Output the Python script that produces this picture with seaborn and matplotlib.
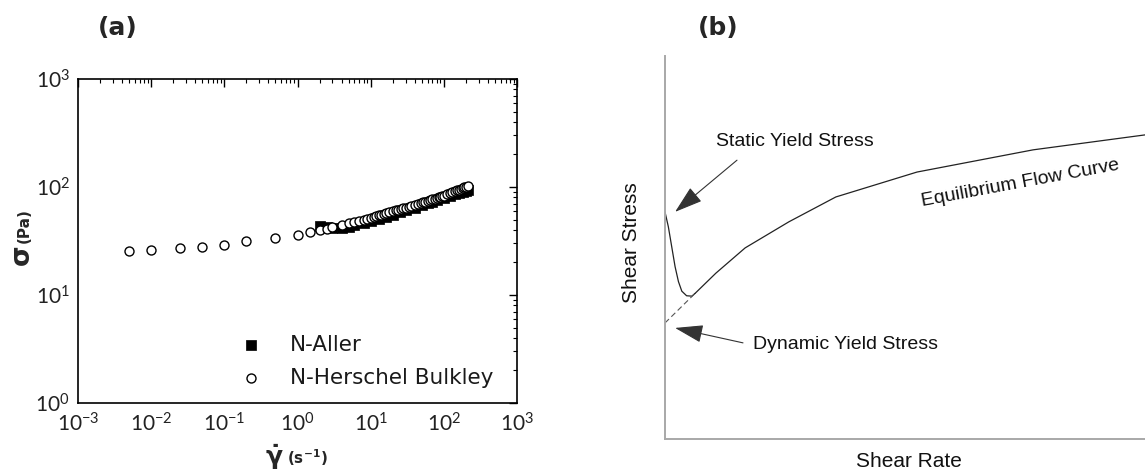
import numpy as np
import pandas as pd
import seaborn as sns
import matplotlib.pyplot as plt
from matplotlib.ticker import LogLocator, NullFormatter

sns.set_style('white')
plt.rcParams['font.family'] = ['Lato', 'DejaVu Sans']
plt.rcParams['mathtext.fontset'] = 'dejavusans'

# panel (a): measured flow curve fits
hb_rate = [0.005, 0.01, 0.025, 0.05, 0.1, 0.2, 0.5, 1, 1.5, 2, 2.5, 3, 4, 5, 6, 7, 8, 9,
           10, 11, 12, 13, 14, 15, 16, 18, 20, 22, 24, 26, 28, 30, 33, 36, 40, 44, 48, 52,
           56, 60, 65, 70, 75, 80, 85, 90, 95, 100, 110, 120, 130, 140, 150, 160, 170, 180,
           190, 200, 214]
hb_stress = [25.8, 26.2, 27.3, 28.1, 29.3, 31.3, 33.8, 36.3, 38.7, 39.8, 41.0, 42.2, 44.4, 46.0,
             47.4, 48.7, 49.9, 51.0, 52.0, 53.0, 53.9, 54.7, 55.5, 56.2, 57.0, 58.3, 59.5, 60.6,
             61.6, 62.6, 63.5, 64.4, 65.7, 66.9, 68.4, 69.8, 71.1, 72.3, 73.4, 74.5, 75.8, 77.0,
             78.2, 79.3, 80.3, 81.3, 82.3, 83.2, 85.3, 87.4, 89.3, 91.2, 93.0, 94.7, 96.3, 97.9,
             99.4, 100.8, 102.7]
aller_rate = [2, 2.5, 3, 4, 5, 6, 8, 10, 13, 16, 20, 25, 30, 40, 50, 60, 70, 80, 100, 120,
              140, 160, 180, 200, 214]
aller_stress = [43.5, 42.3, 41.5, 41.8, 43.0, 44.3, 46.5, 48.5, 51.0, 53.2, 55.6, 58.3, 60.6,
                64.5, 67.8, 70.6, 73.1, 75.3, 79.1, 82.4, 85.3, 88.0, 90.4, 92.6, 94.0]

# panel (b): schematic (arbitrary units)
static_rate = [0, 0.007, 0.014, 0.021, 0.028, 0.035, 0.045, 0.056, 0.0625]
static_stress = [0.593, 0.554, 0.502, 0.450, 0.411, 0.386, 0.374, 0.373, 0.380]
flow_rate = [0.0625, 0.106, 0.167, 0.258, 0.356, 0.525, 0.767, 1.0]
flow_stress = [0.380, 0.433, 0.499, 0.567, 0.632, 0.697, 0.755, 0.794]
extrap_rate = [0.0, 0.0625]
extrap_stress = [0.303, 0.380]

df_hb = pd.DataFrame({'rate': hb_rate, 'stress': hb_stress})
df_al = pd.DataFrame({'rate': aller_rate, 'stress': aller_stress})

W, H = 1145, 473
fig = plt.figure(figsize=(W / 100, H / 100), dpi=100)

# ---------------- (a) ----------------
ax = fig.add_axes([78 / W, 1 - 403 / H, (517 - 78) / W, (403 - 79) / H])
sns.scatterplot(data=df_al, x='rate', y='stress', ax=ax, marker='s', s=50,
                color='black', edgecolor='black', linewidth=0.5, label='N-Aller', zorder=2)
sns.scatterplot(data=df_hb, x='rate', y='stress', ax=ax, marker='o', s=42,
                color='white', edgecolor='black', linewidth=1.0,
                label='N-Herschel Bulkley', zorder=3)
ax.set_xscale('log')
ax.set_yscale('log')
ax.set_xticks(10.0 ** np.arange(-3, 4))
ax.set_yticks(10.0 ** np.arange(0, 4))
ax.set_xlim(1e-3, 1e3)
ax.set_ylim(1, 1e3)
for axis in (ax.xaxis, ax.yaxis):
    axis.set_minor_locator(LogLocator(base=10, subs=np.arange(2, 10), numticks=20))
    axis.set_minor_formatter(NullFormatter())
ax.tick_params(which='both', direction='in', top=True, right=True, colors='black',
               labelcolor='#222222', labelsize=15)
ax.tick_params(which='major', length=6, width=1.0)
ax.tick_params(which='minor', length=3, width=0.8)
ax.tick_params(axis='x', which='major', pad=7)
ax.tick_params(axis='y', which='major', pad=6)
for sp in ax.spines.values():
    sp.set_color('black')
    sp.set_linewidth(1.2)
ax.set(xlabel=None, ylabel=None)
leg = ax.legend(loc='upper left', bbox_to_anchor=(0.326, 0.236), borderaxespad=0,
                frameon=False, prop={'family': 'DejaVu Sans', 'size': 15.5},
                handletextpad=0.8, labelspacing=0.6, markerscale=1.0)
for t in leg.get_texts():
    t.set_color('#1a1a1a')

fig.text(22 / W, 1 - 255 / H, 'σ', rotation=90, fontsize=19, fontweight='bold',
         family='DejaVu Sans', ha='center', va='center')
fig.text(24 / W, 1 - 226 / H, '(Pa)', rotation=90, fontsize=11, fontweight='bold',
         family='DejaVu Sans', ha='center', va='center')
fig.text(274 / W, 1 - 457 / H, r'$\mathbf{\dot{\gamma}}$', fontsize=18,
         ha='center', va='center')
fig.text(307 / W, 1 - 458 / H, r'(s$^{\mathbf{-1}}$)', fontsize=11, fontweight='bold',
         family='DejaVu Sans', ha='center', va='center')
fig.text(118 / W, 1 - 28 / H, '(a)', fontsize=18, fontweight='bold',
         family='DejaVu Sans', ha='center', va='center')

# ---------------- (b) ----------------
bx = fig.add_axes([665 / W, 1 - 439 / H, (W - 665) / W, (439 - 56) / H])
bx.set_xlim(0, 1)
bx.set_ylim(0, 1)
sns.lineplot(x=flow_rate, y=flow_stress, ax=bx, color='#222222', lw=0.9, sort=False,
             clip_on=False)
sns.lineplot(x=static_rate, y=static_stress, ax=bx, color='#222222', lw=0.9, sort=False)
sns.lineplot(x=extrap_rate, y=extrap_stress, ax=bx, color='#555555', lw=0.8, sort=False,
             linestyle=(0, (5, 3)))
sns.despine(ax=bx)
bx.spines['left'].set_color('#a8a8a8')
bx.spines['bottom'].set_color('#a8a8a8')
bx.spines['left'].set_linewidth(1.4)
bx.spines['bottom'].set_linewidth(1.4)
bx.set_xticks([])
bx.set_yticks([])

font_b = 'Liberation Sans'
arrow = dict(arrowstyle='-|>,head_length=1.1,head_width=0.35', color='#333333', lw=0.8,
             mutation_scale=16, shrinkA=0, shrinkB=0)
bx.annotate('', xy=(0.021, 0.593), xytext=(0.15, 0.728), arrowprops=arrow)
bx.annotate('', xy=(0.021, 0.290), xytext=(0.1625, 0.251), arrowprops=arrow)
bx.text(0.106, 0.778, 'Static Yield Stress', family=font_b, fontsize=14,
        ha='left', va='center', color='#111111')
bx.text(0.183, 0.248, 'Dynamic Yield Stress', family=font_b, fontsize=14,
        ha='left', va='center', color='#111111')
bx.text(0.74, 0.667, 'Equilibrium Flow Curve', family=font_b, fontsize=14,
        ha='center', va='center', rotation=10.5, color='#111111')
bx.text(-0.069, 0.514, 'Shear Stress', family=font_b, fontsize=15, rotation=90,
        ha='center', va='center', color='#111111')
bx.text(0.508, -0.06, 'Shear Rate', family=font_b, fontsize=15,
        ha='center', va='center', color='#111111')
fig.text(718 / W, 1 - 28 / H, '(b)', fontsize=18, fontweight='bold',
         family='DejaVu Sans', ha='center', va='center')

fig.savefig('out.png', dpi=100)
